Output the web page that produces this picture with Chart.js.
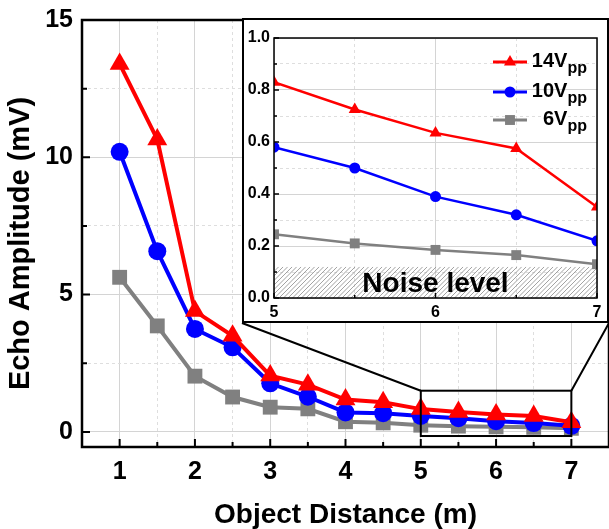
<!DOCTYPE html>
<html>
<head>
<meta charset="utf-8">
<script src="https://cdn.jsdelivr.net/npm/chart.js@4.4.0/dist/chart.umd.min.js"></script>
<style>
  html, body { margin: 0; padding: 0; background: #fff; }
  #wrap { position: relative; width: 609px; height: 529px; overflow: hidden; }
  #main { position: absolute; left: 0; top: 0; }
  #insetBox { position: absolute; left: 242px; top: 18px; width: 363px; height: 301px;
              border: 2px solid #000; background: #fff; }
  #inset { display: block; }
</style>
</head>
<body>
<div id="wrap">
  <canvas id="main" width="609" height="529"></canvas>
  <div id="insetBox"><canvas id="inset" width="363" height="301"></canvas></div>
</div>
<script>
// echo amplitude (mV) vs object distance (m) for three drive voltages
const distance = [1, 1.5, 2, 2.5, 3, 3.5, 4, 4.5, 5, 5.5, 6, 6.5, 7];
const amp14 = [13.4, 10.65, 4.4, 3.5, 2.05, 1.72, 1.18, 1.08, 0.83, 0.725, 0.635, 0.575, 0.35];
const amp10 = [10.2, 6.58, 3.75, 3.08, 1.77, 1.28, 0.71, 0.68, 0.58, 0.5, 0.39, 0.32, 0.22];
const amp6  = [5.63, 3.86, 2.03, 1.27, 0.9, 0.84, 0.37, 0.33, 0.245, 0.21, 0.185, 0.165, 0.13];
const seriesNames = ['14V', '10V', '6V'];

const xTicksMain = [1, 1.5, 2, 2.5, 3, 3.5, 4, 4.5, 5, 5.5, 6, 6.5, 7];
const yTicksMain = [0, 2.5, 5, 7.5, 10, 12.5, 15];
const xTicksInset = [5, 5.5, 6, 6.5, 7];
const yTicksInset = [0, 0.1, 0.2, 0.3, 0.4, 0.5, 0.6, 0.7, 0.8, 0.9, 1.0];

const zoomX = [5, 7];          // zoomed region on the main plot
const zoomY = [-0.15, 1.5];
const noiseLevel = 0.12;

const FONT = '"Liberation Sans", Arial, sans-serif';
const colors = ['#ff0000', '#0000ff', '#808080'];
const styles = ['triangle', 'circle', 'rect'];

function pts(arr, from) {
  return distance.map((d, i) => ({ x: d, y: arr[i] })).filter(p => p.x >= from);
}

const isMajorX = v => Number.isInteger(v);
const isMajorYMain = v => v % 5 === 0;
const isMajorYInset = v => Math.round(v * 10) % 2 === 0;

// fixed axis boxes, no extra label padding
function fixWidth(w) {
  return s => { s.width = w; s.paddingTop = 0; s.paddingBottom = 0; };
}
function fixHeight(h) {
  return s => { s.height = h; s.paddingLeft = 0; s.paddingRight = 0; };
}

// black frame around the plot area plus inward tick marks
const frameTicks = {
  id: 'frameTicks',
  afterDraw(chart, args, o) {
    const { ctx, chartArea: a, scales } = chart;
    ctx.save();
    ctx.strokeStyle = '#000';
    ctx.lineWidth = o.tickWidth;
    ctx.beginPath();
    scales.x.ticks.forEach(t => {
      const px = scales.x.getPixelForValue(t.value);
      const len = o.isMajorX(t.value) ? o.major : o.minor;
      ctx.moveTo(px, a.bottom);
      ctx.lineTo(px, a.bottom - len);
    });
    scales.y.ticks.forEach(t => {
      const py = scales.y.getPixelForValue(t.value);
      const len = o.isMajorY(t.value) ? o.major : o.minor;
      ctx.moveTo(a.left, py);
      ctx.lineTo(a.left + len, py);
    });
    ctx.stroke();
    ctx.lineWidth = o.width;
    ctx.strokeRect(a.left, a.top, a.right - a.left, a.bottom - a.top);
    ctx.restore();
  }
};

// rotated y title, sitting a little below the axis middle
const yTitle = {
  id: 'yTitle',
  afterDraw(chart, args, o) {
    const { ctx, chartArea: a } = chart;
    ctx.save();
    ctx.translate(o.x, (a.top + a.bottom) / 2 + o.shift);
    ctx.rotate(-Math.PI / 2);
    ctx.fillStyle = '#000';
    ctx.font = 'bold ' + o.size + 'px ' + FONT;
    ctx.textAlign = 'center';
    ctx.textBaseline = 'middle';
    ctx.fillText(o.text, 0, 0);
    ctx.restore();
  }
};

// rectangle around the zoomed region and the lines leading to the inset
const zoomBox = {
  id: 'zoomBox',
  afterDraw(chart) {
    const { ctx, scales: { x, y } } = chart;
    const box = document.getElementById('insetBox');
    const l = x.getPixelForValue(zoomX[0]), r = x.getPixelForValue(zoomX[1]);
    const t = y.getPixelForValue(zoomY[1]), b = y.getPixelForValue(zoomY[0]);
    const bl = box.offsetLeft, br = box.offsetLeft + box.offsetWidth;
    const bb = box.offsetTop + box.offsetHeight;
    ctx.save();
    ctx.strokeStyle = '#000';
    ctx.lineWidth = 2;
    ctx.strokeRect(l, t, r - l, b - t);
    ctx.beginPath();
    ctx.moveTo(l, t); ctx.lineTo(bl, bb);
    ctx.moveTo(r, t); ctx.lineTo(br, bb);
    ctx.stroke();
    ctx.restore();
  }
};

// hatched noise floor band
const noiseBand = {
  id: 'noiseBand',
  beforeDatasetsDraw(chart) {
    const { ctx, chartArea: a, scales: { y } } = chart;
    const top = y.getPixelForValue(noiseLevel), bot = y.getPixelForValue(0);
    ctx.save();
    ctx.beginPath();
    ctx.rect(a.left, top, a.right - a.left, bot - top);
    ctx.clip();
    ctx.strokeStyle = '#8a8a8a';
    ctx.lineWidth = 0.8;
    ctx.beginPath();
    for (let sx = a.left - 40; sx < a.right + 40; sx += 4.5) {
      ctx.moveTo(sx, bot);
      ctx.lineTo(sx + (bot - top), top);
    }
    ctx.stroke();
    ctx.restore();
    ctx.save();
    ctx.fillStyle = '#000';
    ctx.font = 'bold 28px ' + FONT;
    ctx.textAlign = 'center';
    ctx.textBaseline = 'alphabetic';
    ctx.fillText('Noise level', (a.left + a.right) / 2, bot - 6);
    ctx.restore();
  }
};

// legend with "pp" subscripts
const subLegend = {
  id: 'subLegend',
  afterDraw(chart) {
    const { ctx } = chart;
    const rows = [42, 72, 100];
    const x0 = 249, x1 = 283, right = 343;
    chart.data.datasets.forEach((ds, i) => {
      const yy = rows[i];
      ctx.save();
      ctx.strokeStyle = ds.borderColor;
      ctx.fillStyle = ds.backgroundColor;
      ctx.lineWidth = 3;
      ctx.beginPath();
      ctx.moveTo(x0, yy); ctx.lineTo(x1, yy);
      ctx.stroke();
      Chart.helpers.drawPoint(ctx, { pointStyle: ds.pointStyle, radius: ds.pointRadius, rotation: 0, borderWidth: 0 }, (x0 + x1) / 2, yy);
      ctx.fillStyle = '#000';
      const mainFont = 'bold 20px ' + FONT, subFont = 'bold 16px ' + FONT;
      ctx.font = mainFont;
      const w1 = ctx.measureText(seriesNames[i]).width;
      ctx.font = subFont;
      const w2 = ctx.measureText('pp').width;
      const sx = right - w1 - w2;
      ctx.font = mainFont;
      ctx.textBaseline = 'alphabetic';
      ctx.fillText(seriesNames[i], sx, yy + 5);
      ctx.font = subFont;
      ctx.fillText('pp', sx + w1, yy + 11);
      ctx.restore();
    });
  }
};

function gridOpts(isMajor) {
  return {
    drawTicks: false,
    lineWidth: 1,
    color: c => (c.tick && isMajor(c.tick.value)) ? '#d4d4d4' : '#dedede'
  };
}
function borderOpts(isMajor) {
  return {
    display: false,
    dash: c => (c.tick && isMajor(c.tick.value)) ? [] : [3, 3]
  };
}

function makeDatasets(from, big) {
  const sizes = big ? [11.5, 9, 10.5] : [7, 5.5, 7];
  return [amp14, amp10, amp6].map((arr, i) => ({
    label: seriesNames[i] + 'pp',
    data: pts(arr, from),
    borderColor: colors[i],
    backgroundColor: colors[i],
    borderWidth: big ? 4 : 2.5,
    pointStyle: styles[i],
    pointRadius: sizes[i],
    pointHoverRadius: sizes[i],
    pointBorderWidth: 0,
    tension: 0
  }));
}

new Chart(document.getElementById('main'), {
  type: 'line',
  data: { datasets: makeDatasets(0, true) },
  options: {
    responsive: false,
    animation: false,
    layout: { autoPadding: false, padding: { top: 20, right: 0, left: 0, bottom: 0 } },
    plugins: {
      legend: { display: false },
      tooltip: { enabled: false },
      frameTicks: { width: 2.5, tickWidth: 2, major: 8, minor: 5, isMajorX: isMajorX, isMajorY: isMajorYMain },
      yTitle: { text: 'Echo Amplitude (mV)', size: 29, x: 21, shift: 10 }
    },
    scales: {
      x: {
        type: 'linear', min: 0.5, max: 7.5,
        afterBuildTicks: s => { s.ticks = xTicksMain.map(v => ({ value: v })); },
        afterFit: fixHeight(82),
        grid: gridOpts(isMajorX),
        border: borderOpts(isMajorX),
        ticks: {
          autoSkip: false, maxRotation: 0, padding: 10, color: '#000',
          font: { family: FONT, size: 25, weight: 'bold' },
          callback: v => isMajorX(v) ? String(v) : ''
        },
        title: {
          display: true, text: 'Object Distance (m)', color: '#000',
          font: { family: FONT, size: 28, weight: 'bold', lineHeight: 1 },
          padding: { top: 0, bottom: 0 }
        }
      },
      y: {
        type: 'linear', min: -0.55, max: 15,
        afterBuildTicks: s => { s.ticks = yTicksMain.map(v => ({ value: v })); },
        afterFit: fixWidth(82),
        grid: gridOpts(isMajorYMain),
        border: borderOpts(isMajorYMain),
        ticks: {
          autoSkip: false, padding: 9, color: '#000',
          font: { family: FONT, size: 25, weight: 'bold' },
          callback: v => isMajorYMain(v) ? String(v) : ''
        }
      }
    }
  },
  plugins: [frameTicks, yTitle, zoomBox]
});

new Chart(document.getElementById('inset'), {
  type: 'line',
  data: { datasets: makeDatasets(zoomX[0], false) },
  options: {
    responsive: false,
    animation: false,
    layout: { autoPadding: false, padding: { top: 18, right: 10, left: 0, bottom: 0 } },
    plugins: {
      legend: { display: false },
      tooltip: { enabled: false },
      frameTicks: { width: 1.5, tickWidth: 1.5, major: 5, minor: 3, isMajorX: isMajorX, isMajorY: isMajorYInset }
    },
    scales: {
      x: {
        type: 'linear', min: zoomX[0], max: zoomX[1],
        afterBuildTicks: s => { s.ticks = xTicksInset.map(v => ({ value: v })); },
        afterFit: fixHeight(23),
        grid: gridOpts(isMajorX),
        border: borderOpts(isMajorX),
        ticks: {
          autoSkip: false, maxRotation: 0, padding: 5, color: '#000',
          font: { family: FONT, size: 16, weight: 'bold' },
          callback: v => isMajorX(v) ? String(v) : ''
        }
      },
      y: {
        type: 'linear', min: 0, max: 1,
        afterBuildTicks: s => { s.ticks = yTicksInset.map(v => ({ value: v })); },
        afterFit: fixWidth(30),
        grid: gridOpts(isMajorYInset),
        border: borderOpts(isMajorYInset),
        ticks: {
          autoSkip: false, padding: 4, color: '#000',
          font: { family: FONT, size: 16, weight: 'bold' },
          callback: v => isMajorYInset(v) ? v.toFixed(1) : ''
        }
      }
    }
  },
  plugins: [noiseBand, frameTicks, subLegend]
});
</script>
</body>
</html>
